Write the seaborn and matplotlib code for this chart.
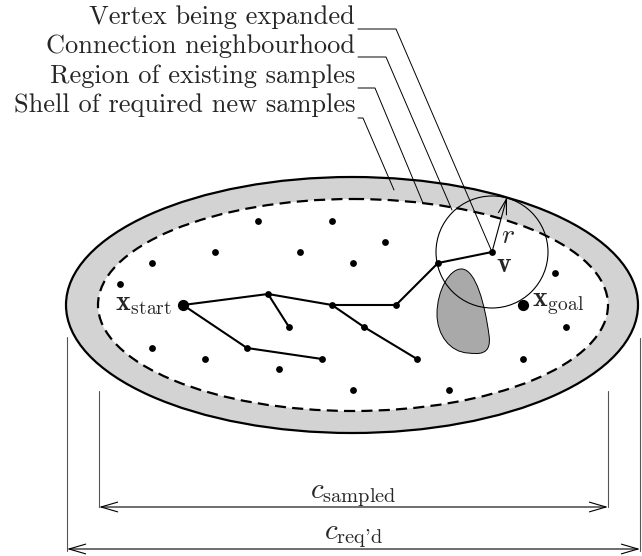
import numpy as np
import pandas as pd
import matplotlib
matplotlib.use('Agg')
import matplotlib.pyplot as plt
import seaborn as sns
from matplotlib.patches import Ellipse, Circle, PathPatch
from matplotlib.path import Path

# sample points (pixel coordinates of the picture, y down)
dot_x = [258, 332, 215, 300, 152, 353, 385, 120, 555, 566, 152, 205, 279, 353, 449, 523]
dot_y = [221, 221, 252, 252, 263, 263, 242, 284, 273, 327, 348, 359, 369, 390, 390, 359]

# tree vertices and edges
tree_x = [183, 268, 289, 332, 396, 438, 492, 364, 417, 247, 322]
tree_y = [305, 294, 327, 305, 305, 263, 252, 327, 359, 348, 359]
edges = [(0, 1), (1, 2), (1, 3), (3, 4), (4, 5), (5, 6), (3, 7), (7, 8), (0, 9), (9, 10)]

start = (183, 305)
goal = (523, 305)
vertex = (492, 252)
radius = 56

labels = ['Vertex being expanded', 'Connection neighbourhood',
          'Region of existing samples', 'Shell of required new samples']
label_y = [24, 53, 83, 112]
leader_y = [29, 57, 88, 118]
leader_kink = [396, 386, 375, 363]
leader_end = [(492, 252), (452, 210), (423, 203), (394, 190)]

sns.set_style('white')
plt.rcParams['mathtext.fontset'] = 'cm'

fig = plt.figure(figsize=(6.42, 5.56), dpi=100)
ax = fig.add_axes([0, 0, 1, 1])

# shell and sampled region
ax.add_patch(Ellipse((352, 305), 572, 256, facecolor='#d3d3d3', edgecolor='black', lw=1.6, zorder=1))
ax.add_patch(Ellipse((353, 305), 510, 212, facecolor='white', edgecolor='black', lw=1.6,
                     linestyle=(0, (5, 2.8)), zorder=2))

# obstacle
verts = [(462, 269), (476, 270), (485, 305), (489, 335),
         (492, 356), (478, 354), (468, 353),
         (450, 352), (437, 335), (437, 314),
         (437, 290), (450, 268), (462, 269)]
codes = [Path.MOVETO] + [Path.CURVE4] * 12
ax.add_patch(PathPatch(Path(verts, codes), facecolor='#a9a9a9', edgecolor='black', lw=0.7, zorder=3))

# connection neighbourhood
ax.add_patch(Circle(vertex, radius, facecolor='none', edgecolor='black', lw=0.8, zorder=4))

# tree edges
rows = []
for k, (a, b) in enumerate(edges):
    rows.append({'edge': k, 'x': tree_x[a], 'y': tree_y[a]})
    rows.append({'edge': k, 'x': tree_x[b], 'y': tree_y[b]})
edf = pd.DataFrame(rows)
sns.lineplot(data=edf, x='x', y='y', units='edge', estimator=None, sort=False,
             color='black', lw=1.5, ax=ax, zorder=5, legend=False)

pts = pd.DataFrame({'x': dot_x + tree_x, 'y': dot_y + tree_y})
sns.scatterplot(data=pts, x='x', y='y', color='black', s=24, linewidth=0, ax=ax, zorder=6)
big = pd.DataFrame({'x': [start[0], goal[0]], 'y': [start[1], goal[1]]})
sns.scatterplot(data=big, x='x', y='y', color='black', s=65, linewidth=0, ax=ax, zorder=6)

# radius arrow
ax.annotate('', xy=(507, 197), xytext=vertex,
            arrowprops=dict(arrowstyle='->,head_length=1.1,head_width=0.3', lw=0.8,
                            shrinkA=0, shrinkB=0, color='black'), zorder=7)
ax.text(508, 235, '$r$', fontsize=20, ha='center', va='center', zorder=7)
ax.text(504, 264, r'$\mathbf{v}$', fontsize=20, ha='center', va='center', zorder=7)
ax.text(172, 303, r'$\mathbf{x}_{\mathrm{start}}$', fontsize=20, ha='right', va='center', zorder=7)
ax.text(532, 303, r'$\mathbf{x}_{\mathrm{goal}}$', fontsize=20, ha='left', va='center', zorder=7)

# labels with leader lines
for txt, ty, ly, kx, (ex, ey) in zip(labels, label_y, leader_y, leader_kink, leader_end):
    ax.text(355, ty, txt, fontsize=19, fontfamily='cmr10', ha='right', va='baseline', zorder=8)
    ax.plot([358, kx, ex], [ly, ly, ey], color='black', lw=0.7, zorder=8)

# dimension lines
ax.plot([67, 67], [337, 551], color='#555555', lw=0.8)
ax.plot([640, 640], [338, 551], color='#555555', lw=0.8)
ax.plot([99, 99], [391, 507], color='#555555', lw=0.8)
ax.plot([608, 608], [391, 507], color='#555555', lw=0.8)
for (x0, x1, y) in [(99, 608, 507), (67, 640, 549)]:
    ax.annotate('', xy=(x1, y), xytext=(x0, y),
                arrowprops=dict(arrowstyle='<->,head_length=1.2,head_width=0.35', lw=0.8,
                                shrinkA=0, shrinkB=0, color='black'))
ax.text(353, 495, r'$c_{\mathrm{sampled}}$', fontsize=21, ha='center', va='center')
ax.text(353, 536, r'$c_{\text{req' + "'" + r'd}}$', fontsize=21, ha='center', va='center')

ax.set_xlim(0, 642)
ax.set_ylim(556, 0)
ax.axis('off')
fig.savefig('out.png', dpi=100)
